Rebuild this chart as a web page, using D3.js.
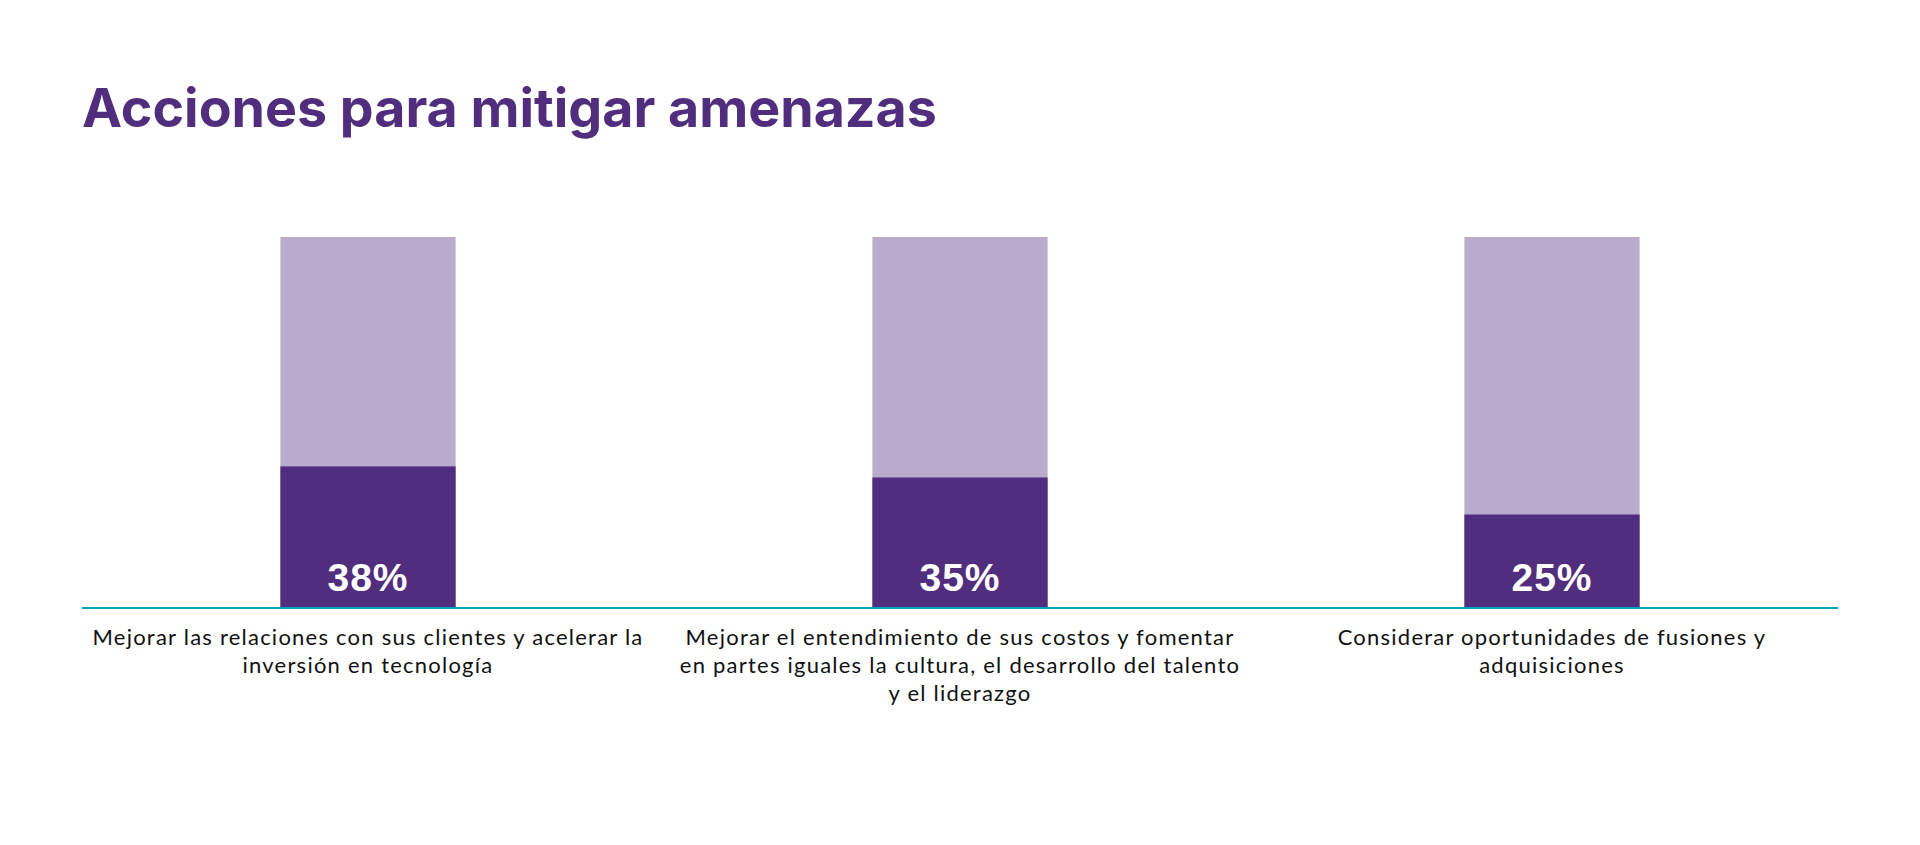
<!DOCTYPE html>
<html>
<head>
<meta charset="utf-8">
<script src="https://cdn.jsdelivr.net/npm/d3@7"></script>
<style>
  html, body { margin: 0; padding: 0; background: #fff; }
  svg { display: block; }
</style>
</head>
<body>
<div id="chart"></div>
<script>
// chart data
const title = "Acciones para mitigar amenazas";
const categories = ["relaciones", "costos", "fusiones"];
const categoryLabels = [
    ["Mejorar las relaciones con sus clientes y acelerar la", "inversión en tecnología"],
    ["Mejorar el entendimiento de sus costos y fomentar", "en partes iguales la cultura, el desarrollo del talento", "y el liderazgo"],
    ["Considerar oportunidades de fusiones y", "adquisiciones"]
];
const values = [38, 35, 25];
const totals = [100, 100, 100];

const width = 1920, height = 845;
const margin = {top: 237, bottom: 238, left: 72, right: 72};
const colors = {title: '#512d7e', bar: '#512d7e', track: '#baabcc', axis: '#00a8bf', text: '#111111'};

const svg = d3.select('#chart').append('svg')
    .attr('width', width)
    .attr('height', height);

// fit a text element to a target width by adjusting its font-size
function fitWidth(sel, target) {
    let size = parseFloat(sel.style('font-size'));
    let w = sel.node().getComputedTextLength();
    sel.style('font-size', (size * target / w).toFixed(2) + 'px');
}

const titleText = svg.append('text')
    .attr('x', 82)
    .attr('y', 127)
    .style('font-family', 'Inter, "Noto Sans", sans-serif')
    .style('font-weight', '700')
    .style('font-size', '54px')
    .style('fill', colors.title)
    .text(title);
fitWidth(titleText, 855);

const x = d3.scaleBand()
    .domain(categories)
    .range([margin.left, width - margin.right])
    .paddingInner(0.704)
    .paddingOuter(0.352);

const y = d3.scaleLinear()
    .domain([0, 100])
    .range([height - margin.bottom, margin.top]);

const data = categories.map((c, i) => ({key: c, value: values[i], total: totals[i], lines: categoryLabels[i]}));

const chart = svg.append('g');

chart.selectAll('.track')
    .data(data)
    .join('rect')
    .attr('class', 'track')
    .attr('x', d => x(d.key))
    .attr('width', x.bandwidth())
    .attr('y', d => y(d.total))
    .attr('height', d => y(0) - y(d.total))
    .attr('fill', colors.track);

chart.selectAll('.bar')
    .data(data)
    .join('rect')
    .attr('class', 'bar')
    .attr('x', d => x(d.key))
    .attr('width', x.bandwidth())
    .attr('y', d => y(d.value))
    .attr('height', d => y(0) - y(d.value))
    .attr('fill', colors.bar);

chart.selectAll('.value-label')
    .data(data)
    .join('text')
    .attr('class', 'value-label')
    .attr('x', d => x(d.key) + x.bandwidth() / 2)
    .attr('y', y(0) - 16)
    .attr('text-anchor', 'middle')
    .style('font-family', '"Liberation Sans", Arial, sans-serif')
    .style('font-weight', '700')
    .style('font-size', '39px')
    .style('letter-spacing', '1px')
    .style('fill', '#ffffff')
    .text(d => d.value + '%');

// baseline
svg.append('line')
    .attr('x1', 82)
    .attr('x2', 1838)
    .attr('y1', y(0) + 1)
    .attr('y2', y(0) + 1)
    .attr('stroke', colors.axis)
    .attr('stroke-width', 2);

// category labels
const labels = chart.selectAll('.cat-label')
    .data(data)
    .join('text')
    .attr('class', 'cat-label')
    .attr('text-anchor', 'middle')
    .style('font-family', 'Lato, "Noto Sans", sans-serif')
    .style('font-size', '22px')
    .style('fill', colors.text);

labels.selectAll('tspan')
    .data(d => d.lines.map(l => ({text: l, cx: x(d.key) + x.bandwidth() / 2})))
    .join('tspan')
    .attr('x', d => d.cx)
    .attr('y', (d, i) => y(0) + 38 + i * 28)
    .text(d => d.text);

// spread letters so the first line of the first label matches the reference width
const probe = labels.filter((d, i) => i === 0).select('tspan').node();
const probeWidth = probe.getComputedTextLength();
const spacing = Math.max(0, (551 - probeWidth) / categoryLabels[0][0].length);
labels.style('letter-spacing', spacing.toFixed(2) + 'px');
</script>
</body>
</html>
